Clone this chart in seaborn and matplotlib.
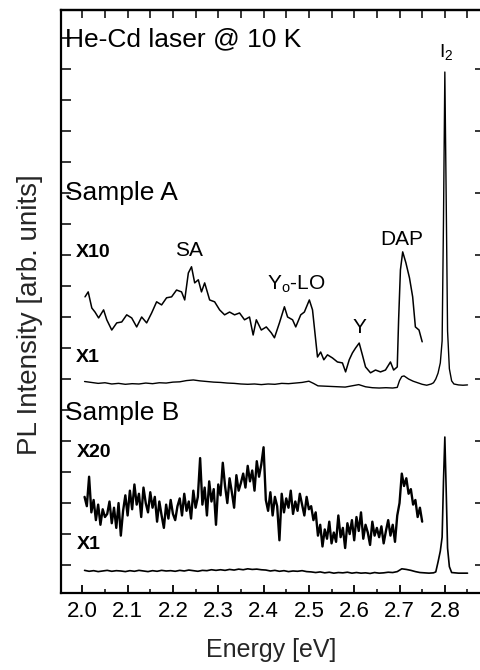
import numpy as np
import matplotlib
matplotlib.use("Agg")
import matplotlib.pyplot as plt
import seaborn as sns
from matplotlib.ticker import FixedLocator

# ---------------- data ----------------
# Sample A, x1 spectrum
energy_A_x1 = [2.005, 2.02, 2.035, 2.05, 2.065, 2.08, 2.095, 2.11, 2.125, 2.14,
               2.155, 2.17, 2.185, 2.20, 2.215, 2.23, 2.245, 2.26, 2.275, 2.29,
               2.305, 2.32, 2.335, 2.35, 2.365, 2.38, 2.395, 2.41, 2.425, 2.44,
               2.455, 2.47, 2.485, 2.50, 2.51, 2.52, 2.535, 2.55, 2.565, 2.58,
               2.595, 2.61, 2.625, 2.64, 2.655, 2.67, 2.685, 2.695, 2.700, 2.705,
               2.71, 2.72, 2.73, 2.74, 2.75, 2.76, 2.77, 2.775, 2.78, 2.785,
               2.79, 2.794, 2.797, 2.800, 2.803, 2.806, 2.81, 2.815, 2.82, 2.83,
               2.84, 2.85]
intensity_A_x1 = [6.92, 6.89, 6.86, 6.88, 6.84, 6.86, 6.83, 6.85, 6.84, 6.87,
                  6.85, 6.88, 6.87, 6.90, 6.91, 6.95, 6.97, 6.94, 6.92, 6.90,
                  6.89, 6.87, 6.86, 6.84, 6.83, 6.84, 6.82, 6.84, 6.83, 6.86,
                  6.85, 6.87, 6.89, 6.93, 6.86, 6.78, 6.77, 6.76, 6.75, 6.74,
                  6.78, 6.82, 6.75, 6.72, 6.71, 6.72, 6.71, 6.73, 6.95, 7.08,
                  7.10, 7.00, 6.93, 6.88, 6.83, 6.80, 6.84, 6.88, 7.00, 7.19,
                  7.52, 8.23, 12.1, 16.9, 12.8, 8.55, 7.33, 6.94, 6.84, 6.81,
                  6.80, 6.81]

# Sample A, x10 spectrum
energy_A_x10 = [2.006, 2.013, 2.021, 2.028, 2.036, 2.047, 2.054, 2.065, 2.076, 2.087,
                2.098, 2.109, 2.120, 2.131, 2.142, 2.153, 2.164, 2.175, 2.186, 2.197,
                2.208, 2.219, 2.226, 2.234, 2.241, 2.248, 2.256, 2.263, 2.270, 2.281,
                2.292, 2.303, 2.314, 2.325, 2.336, 2.347, 2.358, 2.369, 2.377, 2.384,
                2.395, 2.406, 2.417, 2.424, 2.435, 2.446, 2.453, 2.464, 2.471, 2.482,
                2.490, 2.501, 2.508, 2.515, 2.519, 2.526, 2.533, 2.541, 2.552, 2.563,
                2.574, 2.581, 2.589, 2.596, 2.603, 2.611, 2.618, 2.625, 2.636, 2.647,
                2.658, 2.669, 2.680, 2.687, 2.695, 2.698, 2.702, 2.707, 2.714, 2.722,
                2.729, 2.735, 2.743, 2.750]
intensity_A_x10 = [9.65, 9.81, 9.29, 9.16, 8.97, 9.23, 8.91, 8.58, 8.81, 8.84,
                   9.07, 8.97, 8.68, 9.00, 8.81, 9.13, 9.49, 9.39, 9.62, 9.65,
                   9.87, 9.81, 9.55, 10.42, 10.62, 10.10, 10.20, 9.81, 10.10, 9.55,
                   9.49, 9.23, 9.07, 9.16, 9.07, 9.13, 8.91, 9.00, 8.42, 8.91,
                   8.58, 8.68, 8.49, 8.33, 8.81, 9.33, 9.00, 8.91, 8.68, 9.07,
                   9.16, 9.55, 9.23, 8.26, 7.71, 7.87, 7.62, 7.78, 7.68, 7.55,
                   7.52, 7.23, 7.62, 7.84, 8.00, 8.16, 7.78, 7.39, 7.20, 7.29,
                   7.23, 7.29, 7.55, 7.29, 7.39, 8.91, 10.52, 11.10, 10.75, 10.26,
                   9.65, 8.68, 8.58, 8.20]

# Sample B, x20 spectrum (uniform energy grid 2.005 ... 2.750 eV)
intensity_B_x20 = [3.20, 2.90, 3.85, 2.70, 3.10, 2.45, 2.95, 2.30, 2.80, 2.55,
                   2.65, 3.05, 2.35, 2.85, 2.20, 3.00, 1.95, 2.75, 3.25, 2.60,
                   3.40, 2.80, 3.60, 2.95, 3.30, 2.55, 3.50, 3.00, 2.70, 3.35,
                   2.85, 3.20, 2.40, 3.05, 2.60, 2.20, 2.95, 2.50, 3.10, 2.65,
                   2.45, 2.90, 3.15, 2.60, 3.30, 2.75, 3.05, 2.50, 3.40, 2.85,
                   3.20, 4.45, 2.95, 3.50, 2.60, 3.70, 3.05, 3.45, 2.30, 3.60,
                   3.25, 4.30, 3.55, 3.00, 3.80, 3.35, 2.85, 3.90, 3.40, 3.65,
                   3.95, 3.50, 4.20, 3.70, 4.05, 3.40, 4.35, 3.85, 4.25, 4.80,
                   3.10, 2.75, 3.35, 2.60, 3.20, 2.90, 1.80, 3.30, 2.70, 3.15,
                   2.85, 3.40, 2.65, 3.05, 2.75, 3.30, 2.95, 2.60, 3.20, 2.80,
                   2.90, 2.45, 2.70, 1.95, 2.30, 1.60, 2.15, 1.85, 2.40, 1.70,
                   2.05, 1.75, 2.60, 1.90, 2.20, 1.55, 2.35, 2.00, 2.45, 1.80,
                   2.55, 2.10, 2.70, 1.85, 2.30, 2.05, 1.65, 2.40, 1.95, 2.20,
                   1.90, 2.25, 1.70, 2.10, 2.45, 1.95, 2.30, 1.75, 2.60, 3.00,
                   3.95, 3.55, 3.80, 3.30, 3.45, 2.95, 3.10, 2.55, 2.85, 2.40]
energy_B_x20_range = (2.005, 2.750)

# Sample B, x1 spectrum: flat part on a uniform grid 2.005 ... 2.765 eV, then the I2 line
intensity_B_x1_flat = [0.83, 0.80, 0.82, 0.79, 0.81, 0.83, 0.80, 0.82, 0.81, 0.79,
                       0.82, 0.80, 0.83, 0.81, 0.79, 0.82, 0.80, 0.83, 0.81, 0.82,
                       0.80, 0.83, 0.81, 0.84, 0.82, 0.80, 0.83, 0.82, 0.85, 0.83,
                       0.85, 0.83, 0.86, 0.84, 0.87, 0.85, 0.88, 0.86, 0.87, 0.85,
                       0.84, 0.81, 0.83, 0.80, 0.82, 0.79, 0.81, 0.80, 0.82, 0.79,
                       0.78, 0.76, 0.78, 0.75, 0.77, 0.74, 0.76, 0.75, 0.77, 0.74,
                       0.76, 0.74, 0.75, 0.73, 0.76, 0.74, 0.75, 0.77, 0.76, 0.79,
                       0.88, 0.86, 0.83, 0.79, 0.76, 0.75, 0.74]
energy_B_x1_flat_range = (2.005, 2.765)
energy_B_x1_line = [2.775, 2.78, 2.785, 2.79, 2.794, 2.797, 2.800, 2.803, 2.806, 2.81,
                    2.815, 2.83, 2.85]
intensity_B_x1_line = [0.75, 0.78, 1.10, 1.45, 1.90, 3.70, 5.13, 3.40, 1.55, 0.95,
                       0.76, 0.74, 0.74]

x_tick_values = [2.0, 2.1, 2.2, 2.3, 2.4, 2.5, 2.6, 2.7, 2.8]
x_tick_labels = ["2.0", "2.1", "2.2", "2.3", "2.4", "2.5", "2.6", "2.7", "2.8"]

# ---------------- figure ----------------
sns.set_style("ticks")
plt.rcParams['font.family'] = ['Liberation Sans', 'DejaVu Sans']
plt.rcParams['mathtext.fontset'] = 'custom'
plt.rcParams['mathtext.rm'] = 'Liberation Sans'
plt.rcParams['mathtext.it'] = 'Liberation Sans'

fig = plt.figure(figsize=(4.8, 6.7), dpi=100)
ax = fig.add_axes([61 / 480, 77 / 670, 421 / 480, 583 / 670])

energy_B_x20 = np.linspace(*energy_B_x20_range, len(intensity_B_x20))
energy_B_x1_flat = np.linspace(*energy_B_x1_flat_range, len(intensity_B_x1_flat))
energy_B_x1 = np.concatenate([energy_B_x1_flat, energy_B_x1_line])
intensity_B_x1 = np.concatenate([intensity_B_x1_flat, intensity_B_x1_line])

series = [
    (energy_A_x1, intensity_A_x1, 1.0),
    (energy_A_x10, intensity_A_x10, 1.1),
    (energy_B_x20, intensity_B_x20, 1.7),
    (energy_B_x1, intensity_B_x1, 1.2),
]
for e, v, lw in series:
    sns.lineplot(x=np.asarray(e), y=np.asarray(v), ax=ax, color="black",
                 linewidth=lw, sort=False, estimator=None)

ax.set_xlim(1.953, 2.882)
ax.set_ylim(0.1, 18.9)

# x ticks
ax.xaxis.set_major_locator(FixedLocator(x_tick_values))
ax.set_xticklabels(x_tick_labels)
ax.xaxis.set_minor_locator(FixedLocator(np.arange(2.05, 2.86, 0.1)))
ax.tick_params(axis="x", which="major", direction="in", length=6, width=1.3,
               top=False, labelsize=16, pad=6, colors="black")
ax.tick_params(axis="x", which="minor", direction="in", length=3, width=1.3, top=False)

# y ticks (no labels)
ax.yaxis.set_major_locator(FixedLocator(np.arange(1, 18, 2)))
ax.yaxis.set_minor_locator(FixedLocator(np.arange(2, 19, 2)))
ax.tick_params(axis="y", which="both", direction="in", length=7, width=1.3,
               right=False, labelleft=False)

# top and right tick rows
secx = ax.secondary_xaxis("top")
secx.set_xticks(np.arange(2.0, 2.86, 0.05), labels=[])
secx.tick_params(direction="in", length=6, width=1.3)
secx.spines["top"].set_linewidth(1.6)
secy = ax.secondary_yaxis("right")
secy.set_yticks(np.arange(1, 18, 2), labels=[])
secy.tick_params(direction="in", length=5, width=1.3)

for s in ax.spines.values():
    s.set_linewidth(1.6)
    s.set_color("black")

ax.set_xlabel("Energy [eV]", fontsize=18)
ax.xaxis.set_label_coords(0.5, -0.077)
ax.set_ylabel("PL Intensity [arb. units]", fontsize=20)
ax.yaxis.set_label_coords(-0.043, 0.477)

# annotations
kw = dict(color="black", clip_on=False)
ax.text(1.962, 17.95, "He-Cd laser @ 10 K", fontsize=19, ha="left", va="center", **kw)
ax.text(1.962, 13.0, "Sample A", fontsize=19, ha="left", va="center", **kw)
ax.text(1.985, 11.07, "X10", fontsize=14, fontweight="bold", ha="left", va="center", **kw)
ax.text(1.985, 7.71, "X1", fontsize=14, fontweight="bold", ha="left", va="center", **kw)
ax.text(1.962, 5.91, "Sample B", fontsize=19, ha="left", va="center", **kw)
ax.text(1.987, 4.62, "X20", fontsize=14, fontweight="bold", ha="left", va="center", **kw)
ax.text(1.987, 1.65, "X1", fontsize=14, fontweight="bold", ha="left", va="center", **kw)
ax.text(2.236, 11.16, "SA", fontsize=15, ha="center", va="center", **kw)
ax.text(2.473, 10.04, r"Y$_\mathregular{o}$-LO", fontsize=15, ha="center", va="center", **kw)
ax.text(2.611, 8.65, "Y", fontsize=15, ha="center", va="center", **kw)
ax.text(2.705, 11.49, "DAP", fontsize=15, ha="center", va="center", **kw)
ax.text(2.788, 17.55, r"I$_\mathregular{2}$", fontsize=14, ha="left", va="center", **kw)

fig.savefig("out.png", dpi=100)
